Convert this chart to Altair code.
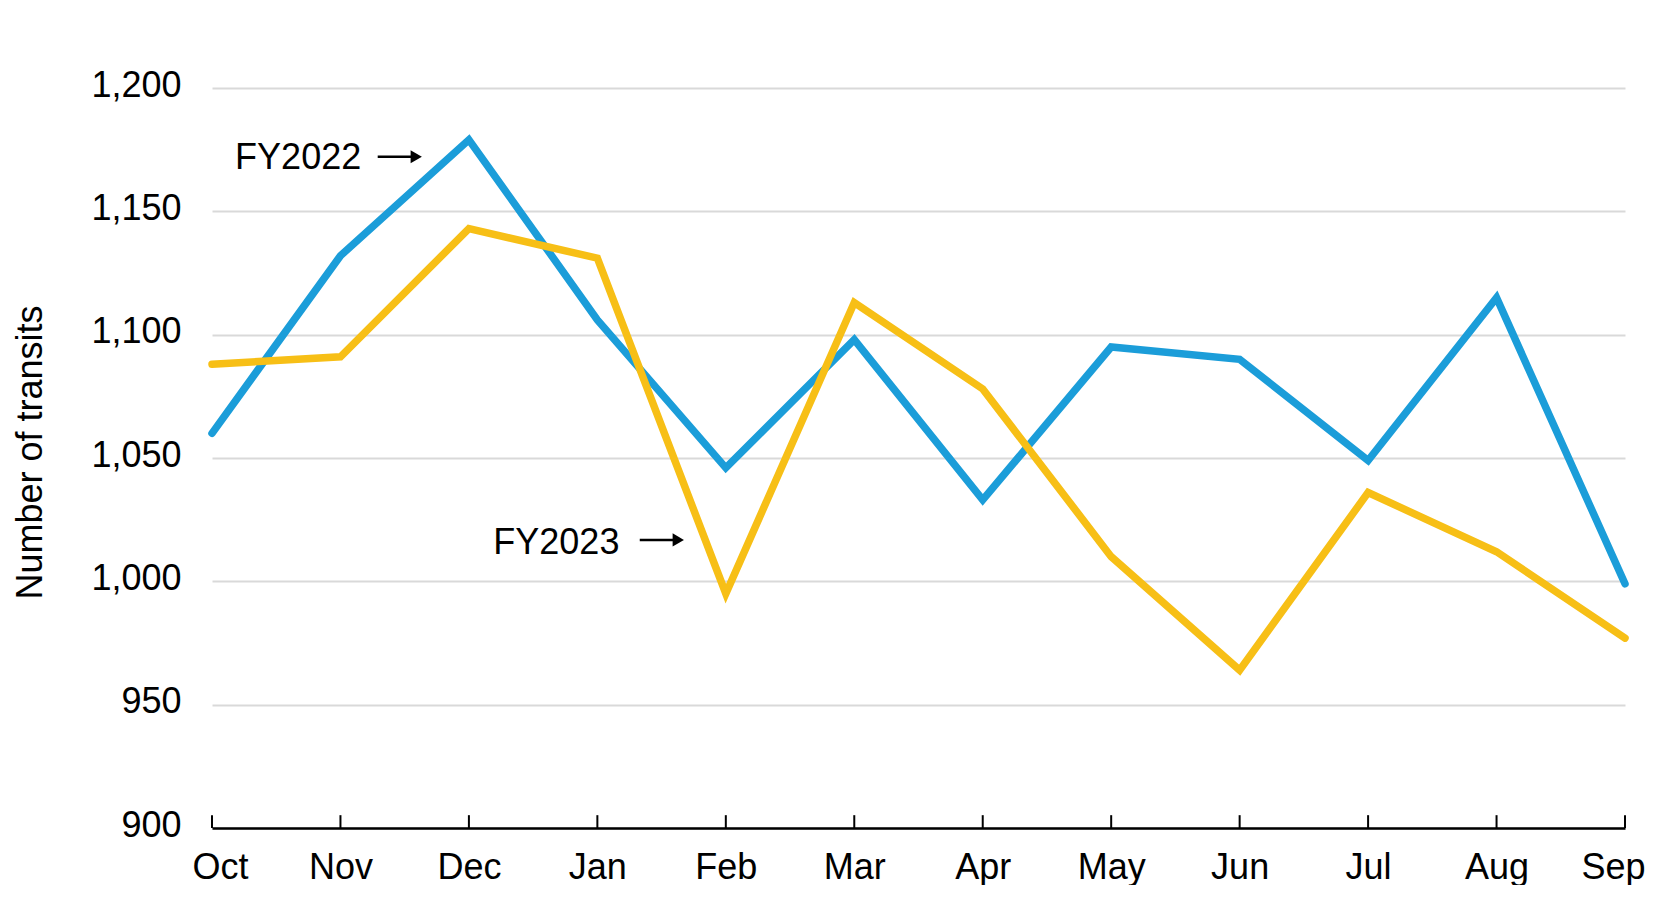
import altair as alt
import pandas as pd
import json

months = ["Oct", "Nov", "Dec", "Jan", "Feb", "Mar", "Apr", "May", "Jun", "Jul", "Aug", "Sep"]
fy2022 = [1060, 1132, 1179, 1106, 1046, 1098, 1033, 1095, 1090, 1049, 1115, 999]
fy2023 = [1088, 1091, 1143, 1131, 995, 1113, 1078, 1010, 964, 1036, 1012, 977]
series_names = ["FY2022", "FY2023"]
series_colors = ["#1b9dd9", "#f7bf16"]
y_ticks = [900, 950, 1000, 1050, 1100, 1150, 1200]

# annotations, in data units (month index, transits)
ann_labels = ["FY2022", "FY2023"]
ann_text_x = [0.18, 2.19]
ann_text_y = [1167.3, 1011.2]
arrow_x0 = [1.29, 3.33]
arrow_x1 = [1.60, 3.64]
arrow_head_x = [1.59, 3.63]
arrow_y = [1172.1, 1016.8]

tick_base = 900
tick_top = 905.2

FONT = "Liberation Sans"
Y_TITLE = "Number of transits"

rows = []
for name, vals in zip(series_names, [fy2022, fy2023]):
    for i, (m, v) in enumerate(zip(months, vals)):
        rows.append({"idx": i, "month": m, "value": v, "series": name})
df = pd.DataFrame(rows)

ticks_df = pd.DataFrame({"idx": list(range(len(months))),
                         "y0": [tick_base] * len(months), "y1": [tick_top] * len(months)})
ann_df = pd.DataFrame({"label": ann_labels, "tx": ann_text_x, "ty": ann_text_y,
                       "ax0": arrow_x0, "ax1": arrow_x1, "hx": arrow_head_x, "ay": arrow_y})

x_scale = alt.Scale(domain=[0, len(months) - 1], nice=False, zero=False)
y_scale = alt.Scale(domain=[900, 1200], nice=False, zero=False)
label_expr = json.dumps(months) + "[datum.value]"

lines = alt.Chart(df).mark_line(strokeWidth=7.5, strokeCap="round", strokeJoin="miter").encode(
    x=alt.X("idx:Q", scale=x_scale, title=None,
            axis=alt.Axis(values=list(range(len(months))), labelExpr=label_expr)),
    y=alt.Y("value:Q", scale=y_scale, title=Y_TITLE,
            axis=alt.Axis(values=y_ticks, format=",d")),
    color=alt.Color("series:N", scale=alt.Scale(domain=series_names, range=series_colors), legend=None),
    detail="series:N",
)

tick_rules = alt.Chart(ticks_df).mark_rule(color="black", strokeWidth=2).encode(
    x=alt.X("idx:Q", scale=x_scale, title=None),
    y=alt.Y("y0:Q", scale=y_scale, title=Y_TITLE),
    y2="y1:Q",
)

ann_text = alt.Chart(ann_df).mark_text(
    align="left", baseline="alphabetic", fontSize=36, font=FONT, color="black"
).encode(
    x=alt.X("tx:Q", scale=x_scale, title=None),
    y=alt.Y("ty:Q", scale=y_scale, title=Y_TITLE),
    text="label:N",
)

ann_shaft = alt.Chart(ann_df).mark_rule(color="black", strokeWidth=2.5).encode(
    x=alt.X("ax0:Q", scale=x_scale, title=None),
    x2="ax1:Q",
    y=alt.Y("ay:Q", scale=y_scale, title=Y_TITLE),
)

ann_head = alt.Chart(ann_df).mark_point(
    shape="triangle-right", filled=True, color="black", size=170, opacity=1
).encode(
    x=alt.X("hx:Q", scale=x_scale, title=None),
    y=alt.Y("ay:Q", scale=y_scale, title=Y_TITLE),
)

chart = alt.layer(tick_rules, lines, ann_text, ann_shaft, ann_head).properties(
    width=1413,
    height=740,
    autosize=alt.AutoSizeParams(type="none"),
    padding={"left": 204, "top": 80, "right": 22, "bottom": 57},
).configure_view(stroke=None).configure_axisX(
    domain=True, domainColor="black", domainWidth=2.5, ticks=False, grid=False,
    labelFont=FONT, labelFontSize=36, labelColor="black", labelBaseline="alphabetic",
    labelPadding=50, labelAngle=0, labelOverlap=False, labelFlush=True, labelFlushOffset=20,
).configure_axisY(
    domain=False, ticks=False, grid=True, gridColor="#d9d9d9", gridWidth=2,
    labelFont=FONT, labelFontSize=36, labelColor="black", labelBaseline="alphabetic",
    labelOffset=8, labelPadding=31, labelOverlap=False,
    titleFont=FONT, titleFontSize=36, titleFontWeight="normal", titleColor="black",
    titleAngle=270, titleAlign="center", titleBaseline="alphabetic", titleX=-171, titleY=364,
)

chart.save("out.html", embed_options={"renderer": "svg", "actions": False})
